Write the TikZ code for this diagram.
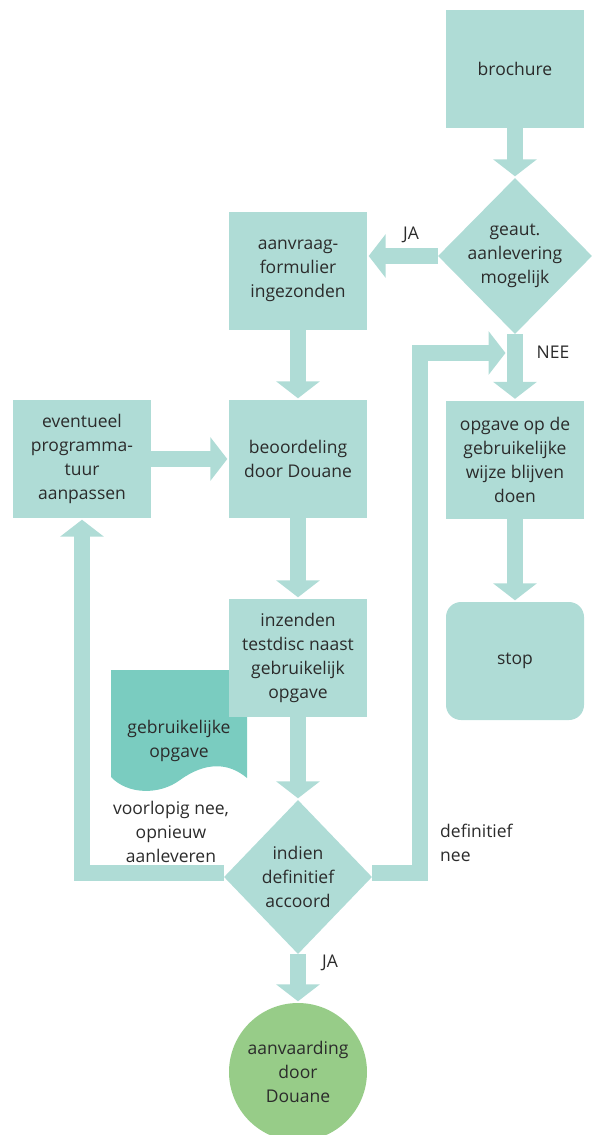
\documentclass[tikz,border=0pt]{standalone}
\usepackage{fontspec}
\setmainfont{Open Sans}
\usetikzlibrary{shapes.geometric,arrows.meta}
\definecolor{boxc}{HTML}{AFDCD6}
\definecolor{docc}{HTML}{7ACCC0}
\definecolor{okc}{HTML}{97CC88}
\definecolor{txt}{HTML}{2B2B2B}
\tikzset{
  basefont/.style={font=\fontsize{17.5}{24}\selectfont, text=txt, align=center},
  stepbox/.style={basefont, rectangle, fill=boxc, minimum width=138pt, minimum height=118pt, inner sep=0pt},
  stopbox/.style={stepbox, rounded corners=15pt},
  decide/.style={diamond, fill=boxc, inner sep=0pt},
  endcirc/.style={basefont, circle, fill=okc, minimum size=138pt, inner sep=0pt},
  lbl/.style={basefont, inner sep=0pt},
  flow/.style={draw=boxc, line width=16pt, -{Triangle[width=43pt,length=17pt]}, shorten >=1.5pt}
}
\begin{document}
\begin{tikzpicture}[x=1pt,y=-1pt]
\useasboundingbox (0,0) rectangle (594,1135);
% document shape
\fill[docc] (111,670) -- (247,670) -- (247,778) .. controls (228,762) and (205,762) .. (180,780) .. controls (160,795) and (128,795) .. (111,777) -- cycle;
\node[lbl] (gebr) at (179,741) {gebruikelijke\\opgave};
% nodes
\node[stepbox] (brochure) at (515,68.5) {brochure};
\node[decide, minimum width=154pt, minimum height=156pt,
      label={[basefont]center:geaut.\\aanlevering\\mogelijk}] (geaut) at (515,256) {};
\node[stepbox] (aanvraag) at (298,271) {aanvraag-\\formulier\\ingezonden};
\node[stepbox] (beoord) at (298,459) {beoordeling\\door Douane};
\node[stepbox] (event) at (82,459) {eventueel\\programma-\\tuur\\aanpassen};
\node[stepbox] (opgave) at (515,459.5) {opgave op de\\gebruikelijke\\wijze blijven\\doen};
\node[stopbox] (stop) at (515,661) {stop};
\node[stepbox] (inzend) at (298,658) {inzenden\\testdisc naast\\gebruikelijk\\opgave};
\node[decide, minimum width=148pt, minimum height=154pt,
      label={[basefont]center:indien\\definitief\\accoord}] (indien) at (298,877) {};
\node[endcirc] (aanv) at (298,1072) {aanvaarding\\door\\Douane};
% coordinates for bent connector
\coordinate (bend) at (420,353);
\coordinate (nj) at (507,353);
% connectors
\draw[flow] (brochure.south) -- (geaut.north);
\draw[flow] (geaut.west) -- (geaut.west -| aanvraag.east);
\draw[flow] (geaut.south) -- (opgave.north);
\draw[flow] (opgave.south) -- (stop.north);
\draw[flow] (aanvraag.south) -- (beoord.north);
\draw[flow] (event.east) -- (beoord.west);
\draw[flow] (beoord.south) -- (inzend.north);
\draw[flow] (inzend.south) -- (indien.north);
\draw[flow] (indien.south) -- (aanv.north);
\draw[flow] ([yshift=4pt]indien.west) -| (event.south);
\draw[flow] ([yshift=4pt]indien.east) -| (bend) -- (nj);
% labels
\node[lbl] (lja1) at (411,235) {JA};
\node[lbl] (lnee) at (553,352) {NEE};
\node[lbl] (lja2) at (330,963) {JA};
\node[lbl] (lvoor) at (171,832) {voorlopig nee,\\opnieuw\\aanleveren};
\node[lbl, align=left, anchor=west] (ldef) at (440,843) {definitief\\nee};
\end{tikzpicture}
\end{document}
